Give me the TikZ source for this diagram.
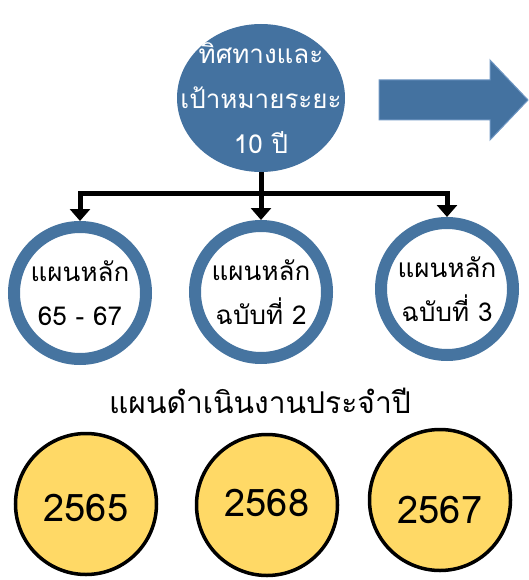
\documentclass[tikz,border=0pt]{standalone}
\usepackage{fontspec}
\newfontfamily\thaifont[Script=Thai]{Loma}
\usetikzlibrary{shapes.geometric, arrows.meta, positioning, calc}
\definecolor{visionblue}{RGB}{68,114,160}
\definecolor{ringblue}{RGB}{70,116,160}
\definecolor{arrowedge}{RGB}{110,150,195}
\definecolor{yearfill}{RGB}{255,217,102}

\begin{document}
\begin{tikzpicture}[
    x=1pt, y=-1pt,
    goal/.style={ellipse, inner sep=0pt, minimum width=168pt, minimum height=148pt, fill=visionblue},
    goaltext/.style={text=white, align=center, font=\thaifont\fontsize{26}{45}\selectfont},
    plan/.style={circle, minimum size=132pt, line width=12pt, draw=ringblue, fill=white, align=center, font=\thaifont\fontsize{26}{44}\selectfont},
    year/.style={circle, minimum size=141pt, line width=3.5pt, draw=black, fill=yearfill},
    yeartext/.style={font=\thaifont\fontsize{38}{40}\selectfont},
    arrow/.style={-{Triangle[width=20pt,length=12pt]}, line width=5pt},
    stem/.style={line width=5pt}
]
\useasboundingbox (0,0) rectangle (529,580);

% Nodes
\node (vision) [goal] at (261,98) {};
\node (visiontext) [goaltext] at (vision) {ทิศทางและ\\เป้าหมายระยะ\\10 ปี};
\coordinate (fork) at (261,193);

\node (plan1) [plan] at (80,293) {แผนหลัก\\65 - 67};
\node (plan2) [plan] at (261,292) {แผนหลัก\\ฉบับที่ 2};
\node (plan3) [plan] at (447,289) {แผนหลัก\\ฉบับที่ 3};

\node (annual) at (260,401) {\thaifont\fontsize{30}{30}\selectfont แผนดำเนินงานประจำปี};

\node (year1) [year, label={[yeartext, yshift=-4pt]center:2565}] at (86,504) {};
\node (year2) [year, label={[yeartext, yshift=2pt]center:2568}] at (267,505) {};
\node (year3) [year, label={[yeartext, yshift=-10pt]center:2567}] at (440,500) {};

% Big arrow
\filldraw [fill=visionblue, draw=arrowedge, line width=1pt]
    (379,80) -- (490,80) -- (490,60) -- (528,100) -- (490,140) -- (490,120) -- (379,120) -- cycle;

% Arrows
\draw [stem] (vision) -- (fork);
\draw [arrow] (fork) -| (plan1);
\draw [arrow] (fork) -- (plan2);
\draw [arrow] (fork) -| (plan3);

\end{tikzpicture}
\end{document}
